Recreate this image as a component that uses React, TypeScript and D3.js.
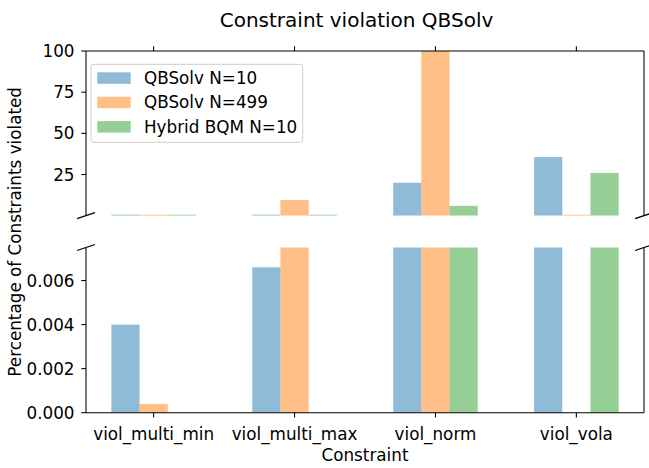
import React from "react";
import * as d3 from "d3";

// data
const categories = ["viol_multi_min", "viol_multi_max", "viol_norm", "viol_vola"];
const seriesNames = ["QBSolv N=10", "QBSolv N=499", "Hybrid BQM N=10"];
const qbsolv10 = [0.004, 0.0066, 20, 35.6];
const qbsolv499 = [0.0004, 9.5, 100, 0];
const hybrid10 = [0, 0, 6, 26];
const topTicks = [25, 50, 75, 100];
const bottomTicks = [0, 0.002, 0.004, 0.006];

const colors = ["#1f77b4", "#ff7f0e", "#2ca02c"];
const series = [qbsolv10, qbsolv499, hybrid10];

const W = 649;
const H = 468;
const L = 86;
const R = 644;
const topT = 51;
const topB = 215.7;
const botT = 247.5;
const botB = 412.7;
const font = "DejaVu Sans, sans-serif";
const fs = 16.8;
const barW = 0.2;

export default function App() {
  const x = d3.scaleLinear().domain([-0.48, 3.48]).range([L, R]);
  const yTop = d3.scaleLinear().domain([0.0075, 100]).range([topB, topT]);
  const yBot = d3.scaleLinear().domain([0, 0.0075]).range([botB, botT]);
  const fmtBot = d3.format(".3f");

  const bars = (which: "top" | "bot") =>
    series.map((vals, si) =>
      vals.map((v, ci) => {
        const x0 = x(ci + (si - 1) * barW - barW / 2);
        const w = x(barW) - x(0);
        let y0: number, h: number;
        if (which === "top") {
          const yy = yTop(v);
          h = Math.max(topB - yy, 1);
          y0 = topB - h;
        } else {
          y0 = yBot(v);
          h = botB - y0;
        }
        if (h <= 0) return null;
        return (
          <rect
            key={`${which}-${si}-${ci}`}
            x={x0}
            y={y0}
            width={w}
            height={h}
            fill={colors[si]}
            fillOpacity={0.5}
          />
        );
      })
    );

  const brk = (cx: number, cy: number, k: string) => (
    <line key={k} x1={cx - 9} y1={cy + 3} x2={cx + 9} y2={cy - 3} stroke="#000" strokeWidth={1.3} />
  );

  const spine = "#000";
  const sw = 1.07;

  return (
    <svg width={W} height={H} style={{ position: "absolute", left: 0, top: 0 }} fontFamily={font}>
      <rect width={W} height={H} fill="#fff" />
      <defs>
        <clipPath id="clipTop">
          <rect x={L} y={topT} width={R - L} height={topB - topT} />
        </clipPath>
        <clipPath id="clipBot">
          <rect x={L} y={botT} width={R - L} height={botB - botT} />
        </clipPath>
      </defs>

      <text x={356.5} y={26.5} textAnchor="middle" fontSize={20} fill="#000">
        Constraint violation QBSolv
      </text>

      {/* top axes */}
      <g clipPath="url(#clipTop)">{bars("top")}</g>
      <line x1={L} y1={topT} x2={L} y2={topB} stroke={spine} strokeWidth={sw} />
      <line x1={R} y1={topT} x2={R} y2={topB} stroke={spine} strokeWidth={sw} />
      <line x1={L} y1={topT} x2={R} y2={topT} stroke={spine} strokeWidth={sw} />
      {topTicks.map((t) => (
        <g key={`tt${t}`}>
          <line x1={L - 4.7} x2={L} y1={yTop(t)} y2={yTop(t)} stroke={spine} strokeWidth={sw} />
          <text x={L - 11.5} y={yTop(t)} dy="0.36em" textAnchor="end" fontSize={fs} fill="#000">
            {t}
          </text>
        </g>
      ))}
      {categories.map((c, i) => (
        <line key={`tx${c}`} x1={x(i)} x2={x(i)} y1={topT} y2={topT - 4.7} stroke={spine} strokeWidth={sw} />
      ))}

      {/* bottom axes */}
      <g clipPath="url(#clipBot)">{bars("bot")}</g>
      <line x1={L} y1={botT} x2={L} y2={botB} stroke={spine} strokeWidth={sw} />
      <line x1={R} y1={botT} x2={R} y2={botB} stroke={spine} strokeWidth={sw} />
      <line x1={L} y1={botB} x2={R} y2={botB} stroke={spine} strokeWidth={sw} />
      {bottomTicks.map((t) => (
        <g key={`bt${t}`}>
          <line x1={L - 4.7} x2={L} y1={yBot(t)} y2={yBot(t)} stroke={spine} strokeWidth={sw} />
          <text x={L - 11.5} y={yBot(t)} dy="0.36em" textAnchor="end" fontSize={fs} fill="#000">
            {fmtBot(t)}
          </text>
        </g>
      ))}
      {categories.map((c, i) => (
        <g key={`bx${c}`}>
          <line x1={x(i)} x2={x(i)} y1={botB} y2={botB + 4.7} stroke={spine} strokeWidth={sw} />
          <text x={x(i)} y={439.5} textAnchor="middle" fontSize={fs} fill="#000">
            {c}
          </text>
        </g>
      ))}

      {/* break marks */}
      {brk(L, topB, "b1")}
      {brk(R, topB, "b2")}
      {brk(L, botT, "b3")}
      {brk(R, botT, "b4")}

      <text x={365} y={460.5} textAnchor="middle" fontSize={fs} fill="#000">
        Constraint
      </text>
      <text
        transform={`translate(20.5,${(topT + botB) / 2}) rotate(-90)`}
        textAnchor="middle"
        fontSize={fs}
        fill="#000"
      >
        Percentage of Constraints violated
      </text>

      {/* legend */}
      <rect x={91} y={64.3} width={211.7} height={78} rx={3} fill="#fff" fillOpacity={0.8} stroke="#cccccc" strokeWidth={1} />
      {seriesNames.map((n, i) => (
        <g key={n} transform={`translate(0,${77.8 + i * 24.4})`}>
          <rect x={97.3} y={-5.5} width={33.4} height={11.5} fill={colors[i]} fillOpacity={0.5} />
          <text x={144} y={0} dy="0.36em" fontSize={fs} fill="#000">
            {n}
          </text>
        </g>
      ))}
    </svg>
  );
}
